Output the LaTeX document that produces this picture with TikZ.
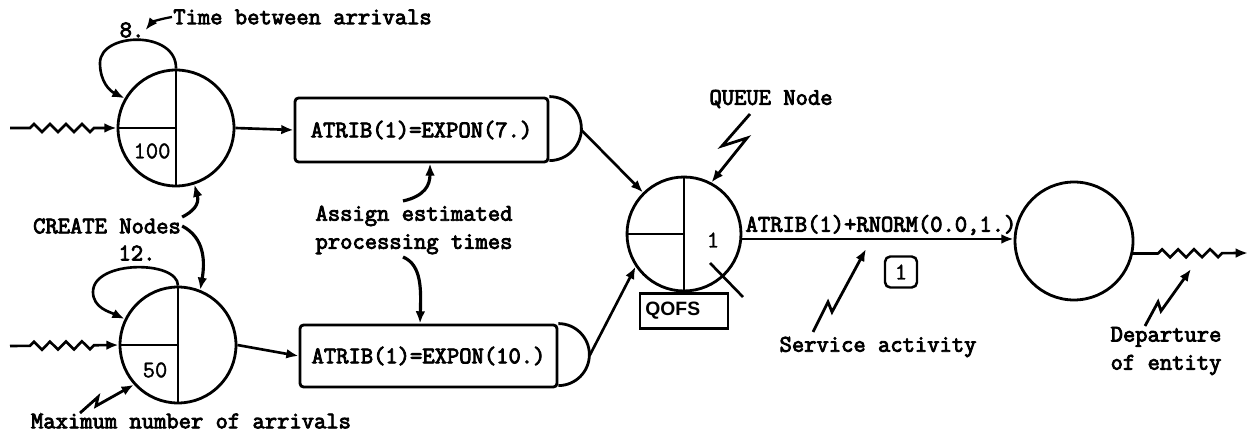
\documentclass[tikz,border=0pt]{standalone}
\usepackage{fontspec}
\newfontfamily\tw[FakeBold=3.5]{Latin Modern Mono}
\newfontfamily\tn[FakeBold=1.5]{Latin Modern Mono}
\newfontfamily\qf{Liberation Sans}
\usetikzlibrary{arrows.meta,decorations.pathmorphing}
\begin{document}
\begin{tikzpicture}[x=0.02cm,y=-0.02cm,
  line width=1.5pt,
  >={Latex[length=7pt,width=5.5pt]},
  circ/.style={circle,draw,inner sep=0pt,line width=1.6pt},
  lbl/.style={font=\tw\fontsize{13.6}{16}\selectfont,inner sep=0pt},
  num/.style={font=\tn\fontsize{13.6}{16}\selectfont,inner sep=0pt},
  asgn/.style={draw,rectangle,rounded corners=2pt,inner sep=0pt,line width=1.6pt,font=\tw\fontsize{13.6}{16}\selectfont},
  wavy/.style={->,decorate,decoration={zigzag,segment length=0.32cm,amplitude=0.08cm,pre length=#1,post length=0.45cm}},
  conn/.style={->},
  bolt/.style={->,line width=1.6pt,line join=miter}
]
\useasboundingbox (0,0) rectangle (1256,438);

% CREATE nodes
\node[circ,minimum size=2.32cm] (c1) at (176,128) {};
\draw (c1.north) -- (c1.south);
\draw (c1.west) -- (c1.center);
\node[num] (n100) at (152,151) {100};

\node[circ,minimum size=2.32cm] (c2) at (178,345) {};
\draw (c2.north) -- (c2.south);
\draw (c2.west) -- (c2.center);
\node[num] (n50) at (155,370) {50};

% self loops
\draw[conn] (c1.north) .. controls (177,30) and (100,32) .. (100,63) .. controls (100,82) and (110,91) .. (c1.150);
\draw[conn] (c2.north) .. controls (178,260) and (93,260) .. (93,292) .. controls (93,308) and (110,312) .. (c2.154);

% inputs
\coordinate (in1) at (10,128);
\coordinate (in2) at (10,346);
\draw[wavy=0.4cm] (in1) -- (c1.west);
\draw[wavy=0.4cm] (in2) -- (c2.west);

% Assign boxes
\node[asgn,minimum width=5.06cm,minimum height=1.28cm] (b1) at (421.5,130) {ATRIB(1)=EXPON(7.)};
\draw[line width=1.6pt] (b1.north east) arc (90:-90:0.64cm);
\coordinate (b1e) at ([xshift=0.64cm]b1.east);
\node[asgn,minimum width=5.14cm,minimum height=1.24cm] (b2) at (428.5,356) {ATRIB(1)=EXPON(10.)};
\draw[line width=1.6pt] (b2.north east) arc (90:-90:0.62cm);
\coordinate (b2e) at ([xshift=0.62cm]b2.east);

\draw[conn] (c1.east) -- (b1.west);
\draw[conn] (c2.east) -- (b2.west);

% QUEUE node
\node[circ,minimum size=2.28cm] (q) at (684,234) {};
\draw (q.north) -- (q.south);
\draw (q.west) -- (q.center);
\node[num] (n1) at (713,240) {1};
\draw (710,263) -- (743,297);
\node[draw,rectangle,line width=1.4pt,minimum width=1.76cm,minimum height=0.7cm,inner sep=0pt,font=\qf\bfseries\fontsize{11}{12}\selectfont] (qofs) at (684,311) {\hspace*{-0.45cm}QOFS};

\draw[conn] (b1e) -- (q);
\draw[conn] (b2e) -- (q.214);

% final node
\node[circ,minimum size=2.36cm] (c3) at (1074,241) {};
\draw[conn] (q.east |- 0,239) -- (c3.west |- 0,239);
\node[lbl] (act) at (881,225) {ATRIB(1)+RNORM(0.0,1.)};
\node[draw,rounded corners=3pt,line width=1.4pt,minimum width=0.64cm,minimum height=0.62cm,inner sep=0pt,font=\tn\fontsize{13.6}{16}\selectfont] (one) at (901,272) {1};

\coordinate (out) at (1248,253);
\draw[wavy=0.5cm] (c3.-12) -- (out);

% labels
\node[lbl] (eight) at (132,30) {8.};
\node[lbl,anchor=west] (tba) at (172,17) {Time between arrivals};
\draw[conn,line width=1.3pt] (tba.west) .. controls (160,19) and (152,22) .. (eight.east);

\node[lbl] (cn) at (107,226) {CREATE Nodes};
\node[lbl] (twelve) at (137,253) {12.};
\draw[conn,line width=1.8pt] (cn.north east) .. controls (192,212) and (200,205) .. (c1.-72);
\draw[conn,line width=1.8pt] (cn.east) .. controls (205,238) and (205,262) .. (c2.68);

\node[lbl] (max) at (191,421) {Maximum number of arrivals};
\draw[bolt] (80,413) -- (98,397) -- (96,406) -- (c2.222);

\node[lbl,align=center] (asg) at (414,230) {Assign estimated\\processing times};
\draw[conn,line width=1.8pt] (403,201) .. controls (425,196) and (430,185) .. ([xshift=0.17cm]b1.south);
\draw[conn,line width=1.8pt] (403,257) .. controls (422,265) and (421,290) .. ([xshift=-0.17cm]b2.north);

\node[lbl] (qn) at (771,99) {QUEUE Node};
\draw[bolt] (750,114) -- (722,146) -- (747,138) -- (q.62);

\node[lbl] (sa) at (878,347) {Service activity};
\draw[bolt] (813,332) -- (828,302) -- (832,312) -- (866,249);

\node[lbl,align=center] (dep) at (1166,351) {Departure\\of entity};
\draw[bolt] (1145,326) -- (1158,302) -- (1161,311) -- (1191,269);
\end{tikzpicture}
\end{document}
